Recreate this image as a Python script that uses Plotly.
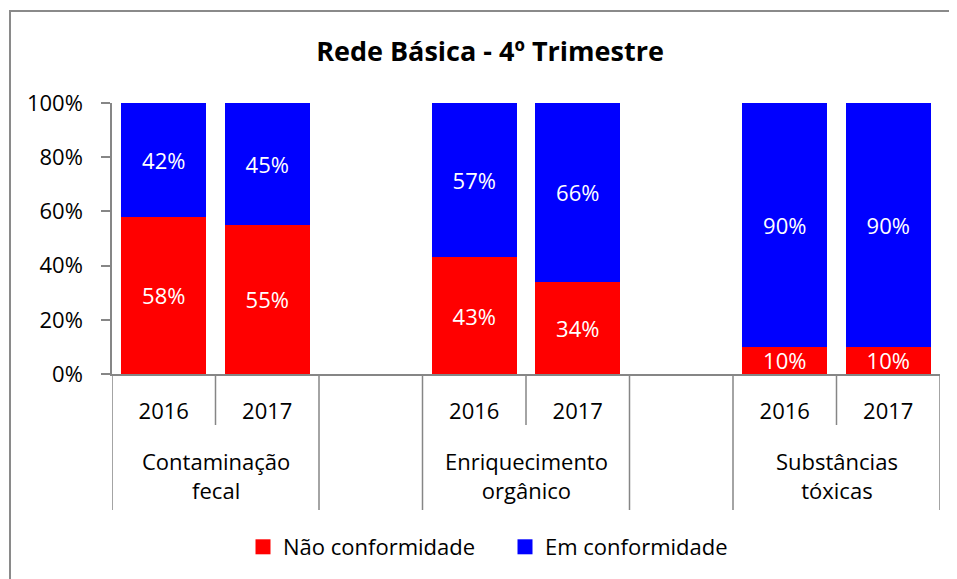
import plotly.graph_objects as go

# ---- data ----
groups = ["Contaminação<br>fecal", "Enriquecimento<br>orgânico", "Substâncias<br>tóxicas"]
years = ["2016", "2017"]
nao_conformidade = [58, 55, 43, 34, 10, 10]
em_conformidade = [42, 45, 57, 66, 90, 90]
series_names = ["Não conformidade", "Em conformidade"]
series_colors = ["#ff0000", "#0000ff"]
title_text = "Rede Básica - 4º Trimestre"

FONT = "Open Sans"
OFF = 8  # page body margin
W, H = 957 - OFF, 579 - OFF
L, T = 112 - OFF, 103 - OFF
PR, PB = 940 - OFF, 374 - OFF
R, B = W - PR, H - PB
PW, PH = PR - L, PB - T


def px(page_x):
    return (page_x - OFF - L) / PW


def py(page_y):
    return (PB - (page_y - OFF)) / PH


# positions: each group has 2 year slots followed by one empty slot
xpos = []
for gi in range(len(groups)):
    for yi in range(len(years)):
        xpos.append(gi * 3 + yi)
ticktext = [years[i % 2] for i in range(len(xpos))]

fig = go.Figure()
for name, vals, col in zip(series_names, [nao_conformidade, em_conformidade], series_colors):
    fig.add_trace(go.Bar(
        x=xpos, y=vals, name=name, width=0.82, showlegend=False,
        marker=dict(color=col, line=dict(width=0)),
        text=[f"{v}%" for v in vals], texttemplate="%{text}",
        textposition="inside", insidetextanchor="middle",
        textangle=0, constraintext="none",
        textfont=dict(color="white", size=22, family=FONT),
        hoverinfo="skip",
    ))
# legend entries with larger square symbols
for name, col in zip(series_names, series_colors):
    fig.add_trace(go.Scatter(
        x=[None], y=[None], mode="markers", name=name,
        marker=dict(symbol="square", size=15, color=col),
    ))

shapes = []
nslots = len(groups) * 3 - 1
for k in range(nslots + 1):
    b = k - 0.5
    short = (k % 3 == 1)
    shapes.append(dict(type="line", xref="x", yref="paper", x0=b, x1=b,
                       y0=0, y1=py(425) if short else py(510),
                       line=dict(color="#868686", width=1.5)))

# chart border
shapes.append(dict(type="rect", xref="paper", yref="paper",
                   x0=px(10), x1=px(975), y0=py(600), y1=py(11),
                   line=dict(color="#8a8a8a", width=2), fillcolor="rgba(0,0,0,0)"))

annotations = []
for gi, g in enumerate(groups):
    annotations.append(dict(x=gi * 3 + 0.5, xref="x", y=py(475), yref="paper",
                            text=g, showarrow=False, yanchor="middle",
                            font=dict(size=22, family=FONT, color="black")))

fig.update_layout(
    width=W, height=H,
    margin=dict(l=L, r=R, t=T, b=B, autoexpand=False),
    paper_bgcolor="white", plot_bgcolor="white",
    barmode="stack",
    title=dict(text="<b>" + title_text + "</b>", x=(490 - OFF) / W, xref="container",
               xanchor="center", y=1 - (52 - OFF) / H, yref="container", yanchor="middle",
               font=dict(size=27, family=FONT, color="black")),
    xaxis=dict(range=[-0.5, nslots - 0.5], tickmode="array", tickvals=xpos, ticktext=ticktext,
               showline=True, linecolor="#868686", linewidth=1.5, ticks="",
               showgrid=False, zeroline=False, ticklabelstandoff=17,
               tickfont=dict(size=22, family=FONT, color="black")),
    yaxis=dict(range=[0, 100], dtick=20, ticksuffix="%", showline=True, linecolor="#868686",
               linewidth=1.5, ticks="outside", ticklen=9, tickcolor="#868686", tickwidth=1.5,
               showgrid=False, zeroline=False, ticklabelstandoff=14,
               tickfont=dict(size=22, family=FONT, color="black")),
    legend=dict(orientation="h", x=px(243), xanchor="left", y=py(547), yanchor="middle",
                font=dict(size=22, family=FONT, color="black"), traceorder="normal",
                itemclick=False, entrywidth=217, entrywidthmode="pixels",
                bgcolor="rgba(0,0,0,0)"),
    shapes=shapes, annotations=annotations,
)

fig.write_html("out.html")
